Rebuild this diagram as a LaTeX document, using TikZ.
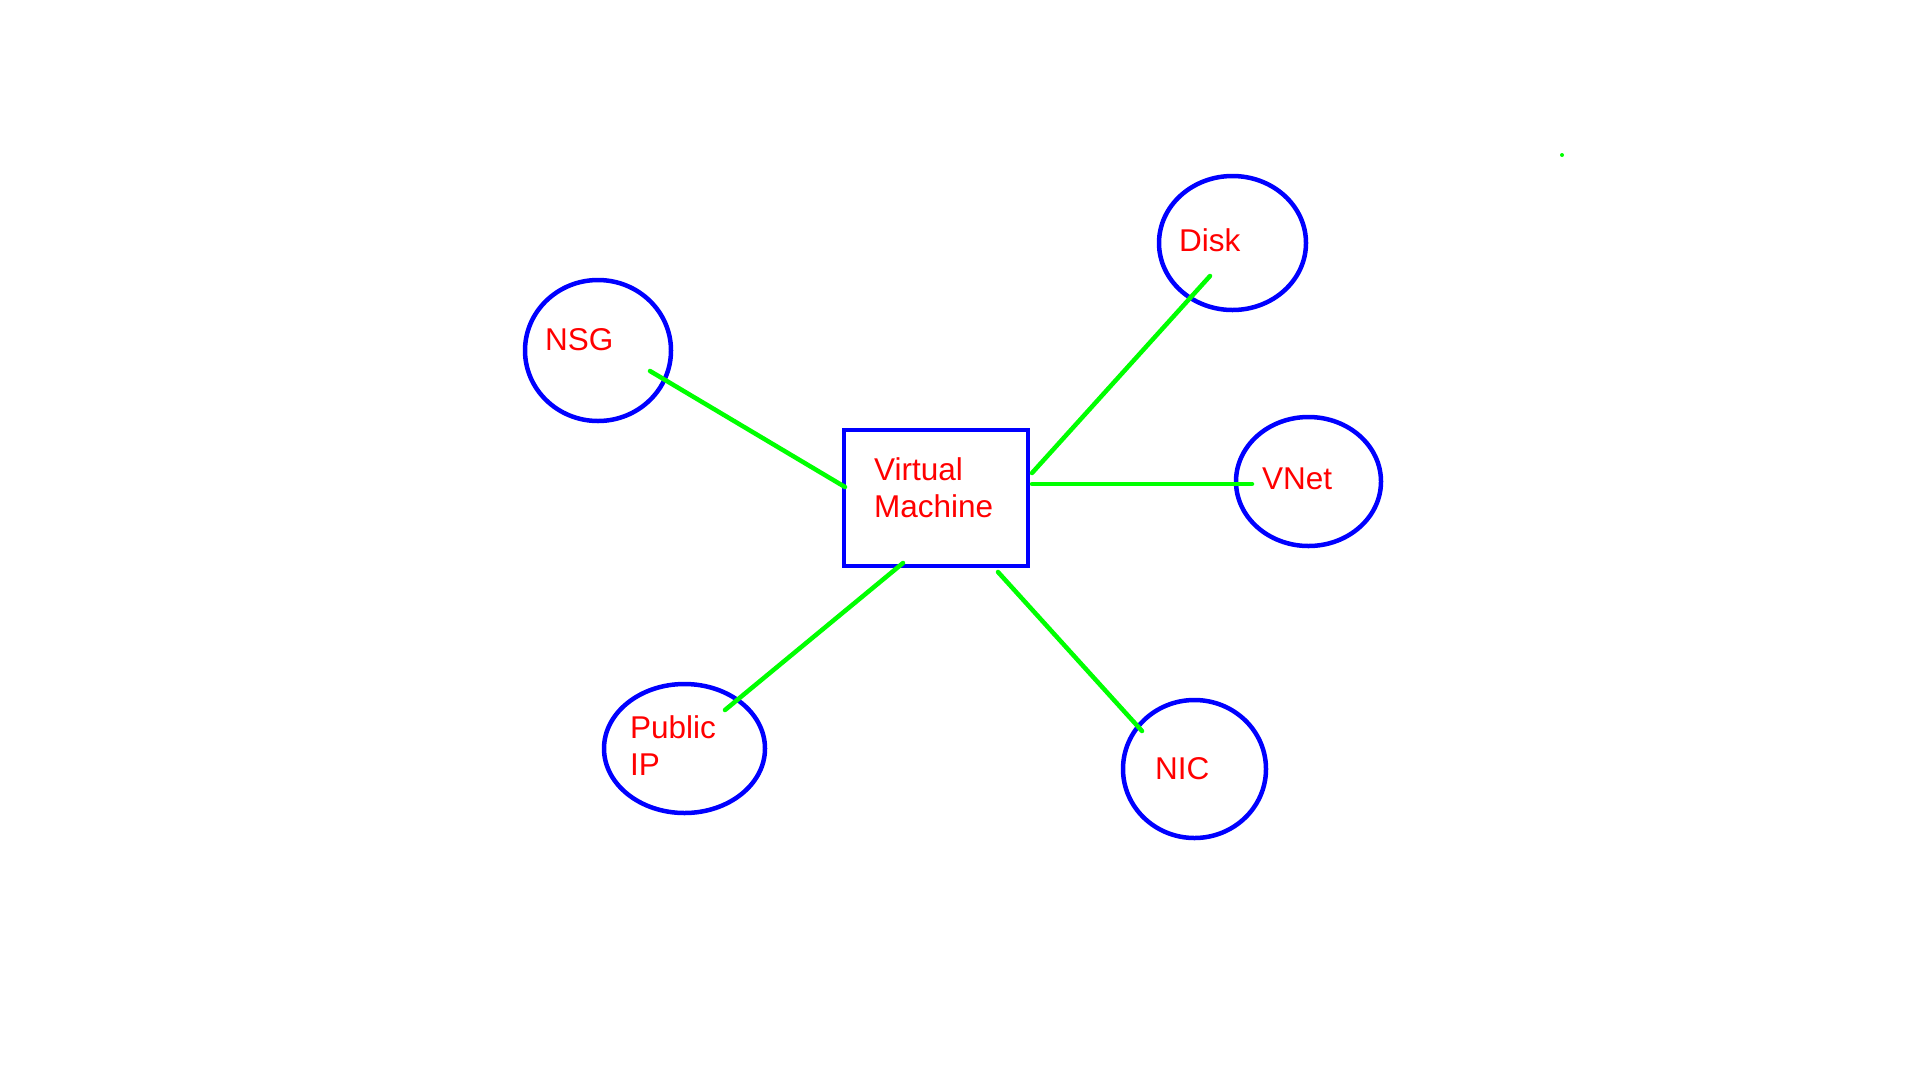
\documentclass[tikz,border=0pt]{standalone}
\usepackage{fontspec}
\setmainfont{Liberation Sans}
\usetikzlibrary{shapes.geometric}
\definecolor{cblue}{RGB}{0,0,255}
\definecolor{cred}{RGB}{255,0,0}
\definecolor{cgreen}{RGB}{0,255,0}
\tikzset{
  res/.style={ellipse, draw=cblue, line width=4.5pt, inner sep=0pt},
  vmbox/.style={rectangle, draw=cblue, line width=4.5pt, inner sep=0pt, minimum width=184pt, minimum height=136pt},
  lbl/.style={text=cred, inner sep=0pt, anchor=base west, align=left,
    font=\fontsize{31.5pt}{37pt}\selectfont},
  link/.style={draw=cgreen, line width=4.5pt, line cap=round}
}
\begin{document}
\begin{tikzpicture}[x=1pt, y=-1pt]
\useasboundingbox (0,0) rectangle (1920,1080);
% resources
\node[res, minimum width=146pt, minimum height=141pt] (nsg) at (598,350.5) {};
\node[res, minimum width=147pt, minimum height=134pt] (disk) at (1232.5,243) {};
\node[res, minimum width=145pt, minimum height=129pt] (vnet) at (1308.5,481.5) {};
\node[res, minimum width=161pt, minimum height=129pt] (pip) at (684.5,748.5) {};
\node[res, minimum width=143pt, minimum height=138pt] (nic) at (1194.5,769) {};
\node[vmbox] (vm) at (936,498) {};
% labels
\node[lbl] (vmt) at (874,517) {Virtual\\Machine};
\node[lbl] (nsgt) at (545,350) {NSG};
\node[lbl] (diskt) at (1179,251) {Disk};
\node[lbl] (vnett) at (1262,489) {VNet};
\node[lbl] (pipt) at (630,775) {Public\\IP};
\node[lbl] (nict) at (1155,779) {NIC};
% connector ends
\coordinate (nsgA) at (650,371);
\coordinate (nsgB) at (845,487);
\coordinate (diskA) at (1210,276);
\coordinate (diskB) at (1032,473);
\coordinate (vnetA) at (1252,484);
\coordinate (vnetB) at (1032,484);
\coordinate (pipA) at (725,710);
\coordinate (pipB) at (903,563);
\coordinate (nicA) at (1142,731);
\coordinate (nicB) at (998,572);
\coordinate (dot) at (1562,155);
% connectors
\draw[link] (nsgA) -- (nsgB);
\draw[link] (diskA) -- (diskB);
\draw[link] (vnetA) -- (vnetB);
\draw[link] (pipA) -- (pipB);
\draw[link] (nicA) -- (nicB);
\fill[cgreen] (dot) circle (2pt);
\end{tikzpicture}
\end{document}
